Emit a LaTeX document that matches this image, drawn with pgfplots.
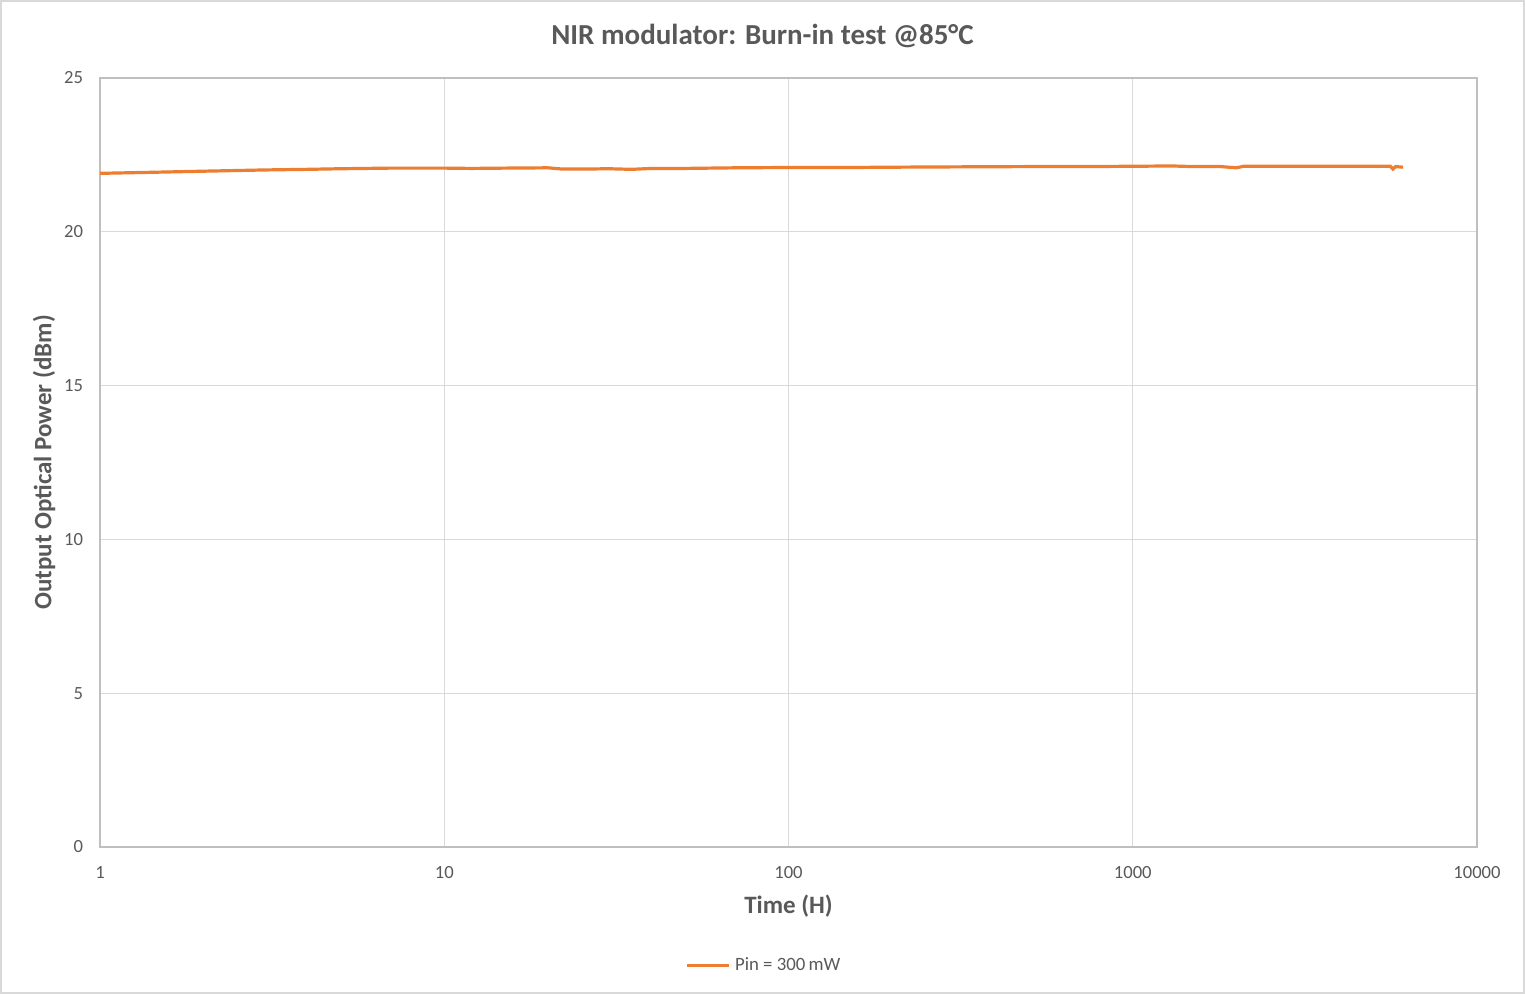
\documentclass[border=0pt]{standalone}
\usepackage{fontspec}
\setmainfont{Carlito}
\usepackage{pgfplots}
\pgfplotsset{compat=1.18}
\definecolor{txt}{HTML}{595959}
\definecolor{grd}{HTML}{D9D9D9}
\definecolor{axl}{HTML}{BFBFBF}
\definecolor{org}{HTML}{ED7D31}
\begin{document}
\begin{tikzpicture}[x=0.5pt,y=0.5pt]
\useasboundingbox (-100,-147) rectangle (1425,847);
\draw[grd,line width=0.8pt] (-99.2,-146.2) rectangle (1424.2,846.2);
\begin{axis}[
  at={(0,0)}, anchor=south west,
  scale only axis, width=688.5pt, height=384.5pt,
  xmode=log, xmin=1, xmax=10000, ymin=0, ymax=25,
  xtick={1,10,100,1000,10000}, xticklabels={1,10,100,1000,10000},
  ytick={0,5,10,15,20,25},
  minor xtick={}, minor ytick={},
  major tick length=0pt, minor tick length=0pt,
  grid=major, major grid style={grd,line width=0.6pt},
  axis line style={axl,line width=0.6pt},
  ticklabel style={font=\fontsize{9.3}{11}\selectfont, text=txt},
  /pgf/number format/assume math mode=true,
  xticklabel style={yshift=-6pt},
  yticklabel style={xshift=-5pt},
  xlabel={\textbf{Time (H)}}, ylabel={\textbf{Output Optical Power (dBm)}},
  label style={font=\fontsize{12.5}{15}\selectfont, text=txt},
  xlabel style={yshift=-1.5pt},
  ylabel style={yshift=-2.5pt},
  legend style={at={(0.483,-0.133)}, anchor=north, draw=none, fill=none, font=\fontsize{9.4}{11}\selectfont, text=txt, legend cell align=left},
  legend image code/.code={\draw[#1] (0pt,0pt) -- (21pt,0pt);},
]
\addplot[org, line width=1.6pt] coordinates {
(1,21.9) (1.5,21.94) (2,21.97) (3,22.01) (4,22.03) (5,22.05) (7,22.07) (10,22.07) (12,22.06) (15,22.07) (20,22.08) (22,22.04) (26,22.04) (30,22.05) (35,22.03) (40,22.06) (50,22.06) (70,22.08) (100,22.09) (150,22.09) (200,22.1) (300,22.11) (500,22.12) (700,22.12) (1000,22.13) (1300,22.14) (1500,22.12) (1800,22.12) (2000,22.08) (2100,22.13) (3000,22.13) (4000,22.13) (5000,22.13) (5600,22.13) (5700,22.04) (5800,22.12) (6100,22.1)
};
\addlegendentry{Pin = 300\,mW}
\end{axis}
\node[font=\bfseries\fontsize{14.5}{17}\selectfont, text=txt] at (662.5,811) {NIR modulator: Burn-in test @85°C};
\end{tikzpicture}
\end{document}
